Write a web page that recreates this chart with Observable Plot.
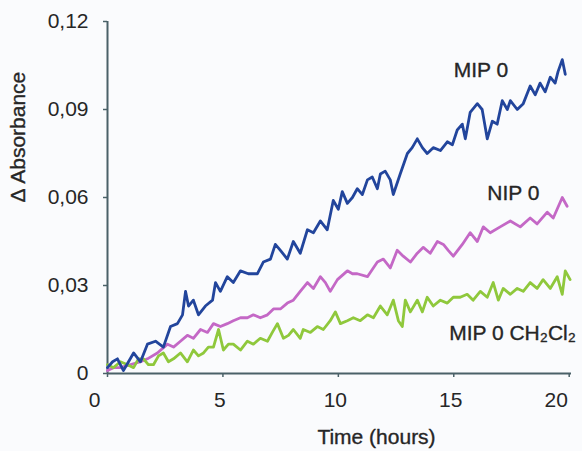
<!DOCTYPE html>
<html><head><meta charset="utf-8">
<script src="https://cdn.jsdelivr.net/npm/d3@7"></script>
<script src="https://cdn.jsdelivr.net/npm/@observablehq/plot@0.6"></script>
<style>body{margin:0;background:#fafbfd;} #chart svg{display:block}</style>
</head><body><div id="chart"></div>
<script>
// ---- data ----
const seriesNames = ["NIP 0", "MIP 0 CH₂Cl₂", "MIP 0"];
const seriesColors = ["#c468c6", "#8fc83c", "#22459c"];

const mip0Time = [0.00,0.22,0.43,0.69,0.91,1.13,1.43,1.73,2.08,2.42,2.73,3.03,3.25,3.38,3.51,3.72,3.94,4.24,4.55,4.68,4.89,5.19,5.45,5.76,6.10,6.49,6.75,7.06,7.27,7.49,7.79,8.05,8.35,8.66,8.92,9.22,9.52,9.78,10.00,10.17,10.39,10.61,10.82,11.04,11.26,11.47,11.69,11.82,12.03,12.25,12.38,12.68,12.99,13.20,13.42,13.64,13.85,14.11,14.42,14.72,14.94,15.15,15.37,15.50,15.71,16.02,16.23,16.45,16.67,16.88,17.10,17.32,17.45,17.75,18.01,18.31,18.53,18.74,18.96,19.18,19.39,19.52,19.70,19.83];
const mip0Abs = [0.002,0.004,0.005,0.001,0.004,0.007,0.004,0.010,0.011,0.009,0.016,0.017,0.020,0.028,0.023,0.025,0.020,0.023,0.025,0.031,0.028,0.033,0.031,0.035,0.034,0.034,0.038,0.039,0.044,0.042,0.039,0.045,0.041,0.049,0.048,0.052,0.049,0.059,0.056,0.062,0.058,0.060,0.063,0.061,0.066,0.067,0.063,0.068,0.069,0.066,0.061,0.068,0.075,0.077,0.080,0.077,0.075,0.077,0.076,0.079,0.078,0.083,0.085,0.080,0.089,0.092,0.090,0.080,0.086,0.085,0.093,0.090,0.093,0.090,0.092,0.098,0.095,0.099,0.096,0.101,0.099,0.103,0.107,0.102];

const nip0Time = [0.00,0.26,0.56,1.00,1.43,1.73,2.16,2.60,2.86,3.16,3.46,3.72,4.03,4.33,4.59,4.89,5.19,5.45,5.76,6.06,6.32,6.62,6.93,7.19,7.49,7.79,8.05,8.35,8.66,8.92,9.22,9.44,9.65,9.96,10.39,10.61,10.82,11.26,11.69,11.95,12.25,12.55,12.81,13.12,13.42,13.68,13.98,14.29,14.55,14.76,14.98,15.37,15.71,16.02,16.28,16.58,17.01,17.45,17.88,18.31,18.61,19.05,19.31,19.70,19.91];
const nip0Abs = [0.001,0.002,0.002,0.003,0.004,0.005,0.007,0.010,0.009,0.011,0.013,0.012,0.015,0.014,0.017,0.016,0.017,0.018,0.019,0.019,0.020,0.019,0.020,0.022,0.022,0.024,0.025,0.028,0.031,0.029,0.033,0.031,0.028,0.032,0.035,0.034,0.034,0.033,0.038,0.039,0.036,0.042,0.040,0.038,0.041,0.043,0.041,0.045,0.044,0.042,0.040,0.044,0.048,0.045,0.050,0.048,0.050,0.052,0.050,0.053,0.051,0.055,0.053,0.060,0.057];

const ch2Time = [0.00,0.26,0.56,0.87,1.13,1.34,1.56,1.77,1.99,2.21,2.42,2.64,2.86,3.16,3.46,3.72,3.94,4.16,4.37,4.59,4.81,5.02,5.24,5.45,5.76,6.06,6.32,6.62,6.93,7.14,7.36,7.62,7.84,8.05,8.35,8.48,8.79,9.09,9.35,9.65,9.87,10.09,10.39,10.65,10.95,11.26,11.52,11.82,12.12,12.38,12.60,12.77,12.90,13.12,13.42,13.64,13.85,14.11,14.42,14.72,14.98,15.28,15.58,15.84,16.15,16.45,16.71,16.93,17.14,17.45,17.75,18.01,18.31,18.61,18.87,19.18,19.48,19.70,19.83,20.04];
const ch2Abs = [0.003,0.002,0.004,0.003,0.002,0.005,0.005,0.003,0.003,0.006,0.007,0.004,0.005,0.007,0.004,0.008,0.006,0.007,0.009,0.009,0.015,0.008,0.010,0.010,0.008,0.011,0.010,0.012,0.011,0.014,0.017,0.012,0.013,0.015,0.012,0.015,0.014,0.016,0.015,0.018,0.021,0.017,0.018,0.019,0.018,0.020,0.019,0.023,0.020,0.025,0.018,0.016,0.025,0.021,0.025,0.021,0.026,0.023,0.025,0.024,0.026,0.026,0.027,0.025,0.028,0.026,0.031,0.025,0.029,0.027,0.029,0.028,0.031,0.029,0.032,0.029,0.033,0.027,0.035,0.032];

const yTicks = [0, 0.03, 0.06, 0.09, 0.12];
const yTickLabels = ["0", "0,03", "0,06", "0,09", "0,12"];
const xTicksEdge = [0, 20];
const xTicksMid = [5, 10, 15];
const xLabel = ["Time (hours)"];
const yLabel = ["Δ Absorbance"];
const seriesLabels = [
  {text: "MIP 0", x: 15.0, y: 0.1033},
  {text: "NIP 0", x: 16.45, y: 0.0614},
  {text: "MIP 0 CH₂Cl₂", x: 14.8, y: 0.0136}
];

// ---- build table ----
const rows = [];
nip0Time.forEach((t, i) => rows.push({series: "NIP 0", t, v: nip0Abs[i]}));
ch2Time.forEach((t, i) => rows.push({series: "MIP 0 CH₂Cl₂", t, v: ch2Abs[i]}));
mip0Time.forEach((t, i) => rows.push({series: "MIP 0", t, v: mip0Abs[i]}));

const axisColor = "#4a6168";
const textColor = "#262626";
const fs = 21;
const txt = {fill: textColor, stroke: textColor, strokeWidth: 0.35, fontSize: fs};
const xFmt = d => String(d);

const chart = Plot.plot({
  width: 582, height: 451,
  marginLeft: 107, marginRight: 11, marginTop: 21, marginBottom: 78,
  style: {background: "#fafbfd", fontFamily: "'Liberation Sans', Arial, sans-serif", fontSize: fs + "px", color: textColor},
  x: {domain: [0, 20.1]},
  y: {domain: [0, 0.12]},
  color: {domain: seriesNames, range: seriesColors},
  marks: [
    // tick marks
    Plot.axisY({ticks: yTicks, tickFormat: null, text: null, tickSize: 4, label: null, stroke: axisColor, strokeWidth: 1.5}),
    Plot.axisX({ticks: [...xTicksEdge, ...xTicksMid], tickFormat: null, text: null, tickSize: 4, label: null, stroke: axisColor, strokeWidth: 1.5}),
    // tick labels
    Plot.axisY({ticks: yTicks, tickFormat: d => yTickLabels[yTicks.indexOf(d)], tickSize: 0, tickPadding: 19, label: null, stroke: textColor, strokeWidth: 0.35, fill: textColor, fontSize: fs}),
    Plot.axisX({ticks: xTicksMid, tickFormat: xFmt, tickSize: 0, tickPadding: 19, label: null, stroke: textColor, strokeWidth: 0.35, fill: textColor, fontSize: fs, dx: -3}),
    Plot.axisX({ticks: xTicksEdge, tickFormat: xFmt, tickSize: 0, tickPadding: 19, label: null, stroke: textColor, strokeWidth: 0.35, fill: textColor, fontSize: fs, dx: -13}),
    Plot.ruleX([0], {stroke: axisColor, strokeWidth: 2}),
    Plot.ruleY([0], {stroke: axisColor, strokeWidth: 2}),
    Plot.line(rows, {x: "t", y: "v", z: "series", stroke: "series", strokeWidth: 2.8, strokeLinejoin: "round"}),
    Plot.text(seriesLabels, {x: "x", y: "y", text: "text", textAnchor: "start", lineAnchor: "middle", ...txt}),
    Plot.text(xLabel, {frameAnchor: "bottom", text: d => d, dx: 37, dy: 64, lineAnchor: "middle", ...txt}),
    Plot.text(yLabel, {frameAnchor: "left", text: d => d, rotate: -90, dx: -89, dy: 5, lineAnchor: "middle", ...txt})
  ]
});
document.getElementById("chart").appendChild(chart);
</script>
</body></html>
